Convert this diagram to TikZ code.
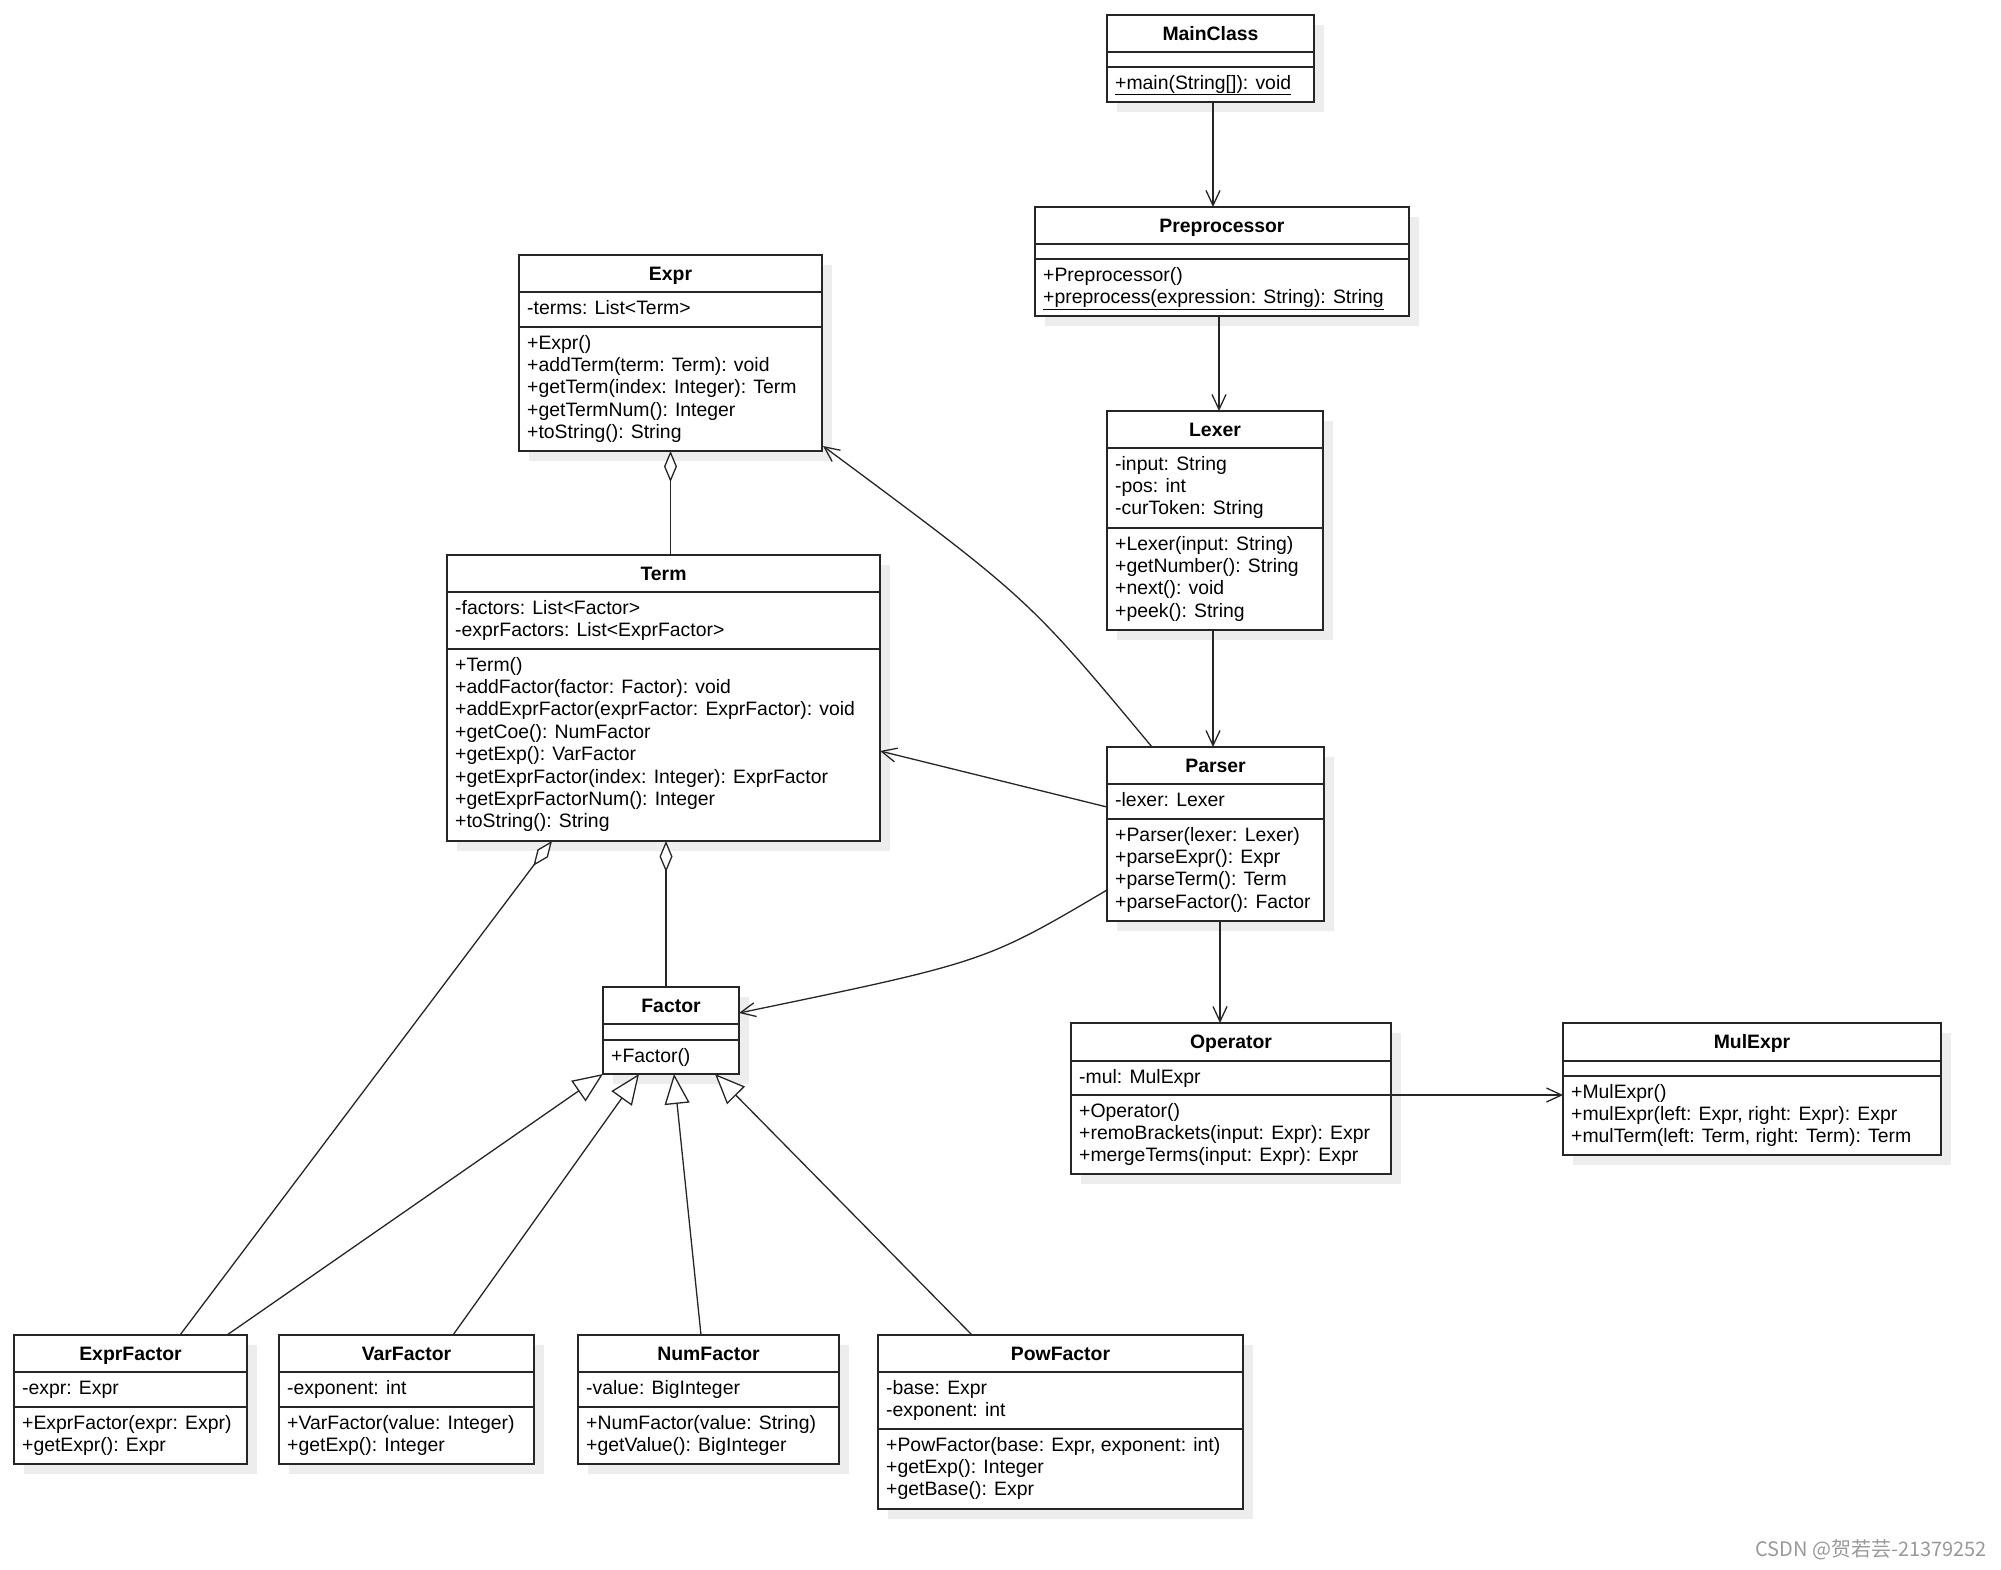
\documentclass[tikz,border=0pt]{standalone}
\usepackage{fontspec}
\setmainfont{Liberation Sans}
\newfontfamily\cjkfont{Noto Sans CJK SC}
\usetikzlibrary{arrows.meta,shadows,calc}

\newcommand\umlbox[8]{%
  \node[umlbox, minimum width=#3-#2, minimum height=#7-#4, anchor=north west] (#1) at (#2,#4) {};
  \draw[umldiv] (#2,#5) -- (#3,#5);
  \draw[umldiv] (#2,#6) -- (#3,#6);
  \node[clstitle] (#1-title) at ({(#2+#3)/2},#4+25.5) {#8};
}
\newcommand\umlmembers[4]{%
  \foreach \t [count=\i from 0] in {#4} {\node[membertxt] (#1-\i) at (#2+8,#3+22+\i*22.4) {\t};}%
}

\begin{document}
\begin{tikzpicture}[x=1pt,y=-1pt,
  umlbox/.style={draw=black!85, line width=2pt, fill=white, inner sep=0pt, outer sep=0pt,
    drop shadow={shadow xshift=10pt, shadow yshift=-10pt, fill=black!7, opacity=1}},
  umldiv/.style={draw=black!85, line width=1.4pt},
  clstitle/.style={anchor=base, inner sep=0pt, font=\fontsize{19.4}{22.4}\selectfont\bfseries},
  membertxt/.style={anchor=base west, inner sep=0pt, font=\fontsize{19.4}{22.4}\selectfont},
  conn/.style={draw=black!85, line width=1.3pt},
  assoc/.style={conn, -{Straight Barb[length=15pt,width=14pt]}},
  gen/.style={conn, -{Triangle[length=30pt,width=25pt,fill=white]}},
  aggr/.style={conn, {Diamond[length=31pt,width=13pt,fill=white]}-}
]
\fill[white] (0,0) rectangle (2001,1569);
\useasboundingbox (0,0) rectangle (2001,1569);

% ---------- classes ----------
\umlbox{mainclass}{1107}{1314}{15}{52}{67}{102}{MainClass}
\umlmembers{mainclass-m}{1107}{67}{{\underline{+main(String[]): void}}}

\umlbox{preprocessor}{1035}{1409}{207}{244}{259}{316}{Preprocessor}
\umlmembers{preprocessor-m}{1035}{259}{+Preprocessor(),{\underline{+preprocess(expression: String): String}}}

\umlbox{expr}{519}{822}{255}{292}{327}{451}{Expr}
\umlmembers{expr-a}{519}{292}{-terms: List<Term>}
\umlmembers{expr-m}{519}{327}{+Expr(),%
+addTerm(term: Term): void,%
+getTerm(index: Integer): Term,%
+getTermNum(): Integer,%
+toString(): String}

\umlbox{term}{447}{880}{555}{592}{649}{841}{Term}
\umlmembers{term-a}{447}{592}{-factors: List<Factor>,%
-exprFactors: List<ExprFactor>}
\umlmembers{term-m}{447}{649}{+Term(),%
+addFactor(factor: Factor): void,%
+addExprFactor(exprFactor: ExprFactor): void,%
+getCoe(): NumFactor,%
+getExp(): VarFactor,%
+getExprFactor(index: Integer): ExprFactor,%
+getExprFactorNum(): Integer,%
+toString(): String}

\umlbox{lexer}{1107}{1323}{411}{448}{528}{630}{Lexer}
\umlmembers{lexer-a}{1107}{448}{-input: String,%
-pos: int,%
-curToken: String}
\umlmembers{lexer-m}{1107}{528}{+Lexer(input: String),%
+getNumber(): String,%
+next(): void,%
+peek(): String}

\umlbox{parser}{1107}{1324}{747}{784}{819}{921}{Parser}
\umlmembers{parser-a}{1107}{784}{-lexer: Lexer}
\umlmembers{parser-m}{1107}{819}{+Parser(lexer: Lexer),%
+parseExpr(): Expr,%
+parseTerm(): Term,%
+parseFactor(): Factor}

\umlbox{factor}{603}{739}{987}{1024}{1040}{1074}{Factor}
\umlmembers{factor-m}{603}{1040}{+Factor()}

\umlbox{operator}{1071}{1391}{1023}{1061}{1095}{1174}{Operator}
\umlmembers{operator-a}{1071}{1061}{-mul: MulExpr}
\umlmembers{operator-m}{1071}{1095}{+Operator(),%
+remoBrackets(input: Expr): Expr,%
+mergeTerms(input: Expr): Expr}

\umlbox{mulexpr}{1563}{1941}{1023}{1061}{1076}{1155}{MulExpr}
\umlmembers{mulexpr-m}{1563}{1076}{+MulExpr(),%
{+mulExpr(left: Expr, right: Expr): Expr},%
{+mulTerm(left: Term, right: Term): Term}}

\umlbox{exprfactor}{14}{247}{1335}{1372}{1407}{1464}{ExprFactor}
\umlmembers{exprfactor-a}{14}{1372}{-expr: Expr}
\umlmembers{exprfactor-m}{14}{1407}{+ExprFactor(expr: Expr),%
+getExpr(): Expr}

\umlbox{varfactor}{279}{534}{1335}{1372}{1407}{1464}{VarFactor}
\umlmembers{varfactor-a}{279}{1372}{-exponent: int}
\umlmembers{varfactor-m}{279}{1407}{+VarFactor(value: Integer),%
+getExp(): Integer}

\umlbox{numfactor}{578}{839}{1335}{1372}{1407}{1464}{NumFactor}
\umlmembers{numfactor-a}{578}{1372}{-value: BigInteger}
\umlmembers{numfactor-m}{578}{1407}{+NumFactor(value: String),%
+getValue(): BigInteger}

\umlbox{powfactor}{878}{1243}{1335}{1372}{1429}{1509}{PowFactor}
\umlmembers{powfactor-a}{878}{1372}{-base: Expr,%
-exponent: int}
\umlmembers{powfactor-m}{878}{1429}{{+PowFactor(base: Expr, exponent: int)},%
+getExp(): Integer,%
+getBase(): Expr}

% ---------- associations ----------
\coordinate (a1) at ($(mainclass.south)+(2.5,0)$);
\draw[assoc] (a1) -- (a1 |- preprocessor.north);
\coordinate (a2) at ($(preprocessor.south)+(-3,0)$);
\draw[assoc] (a2) -- (a2 |- lexer.north);
\coordinate (a3) at ($(lexer.south)+(-2,0)$);
\draw[assoc] (a3) -- (a3 |- parser.north);
\coordinate (a4) at ($(parser.south)+(4.5,0)$);
\draw[assoc] (a4) -- (a4 |- operator.north);
\coordinate (a5) at ($(operator.east)+(0,-3.5)$);
\draw[assoc] (a5) -- (a5 -| mulexpr.west);

\draw[assoc] ($(parser.west)+(0,-27)$) -- ($(term.east)+(0,53)$);
\draw[assoc] ($(parser.west)+(0,56)$) .. controls (985,962) .. ($(factor.east)+(0,-17.5)$);
\draw[assoc] ($(parser.north west)+(45,0)$) .. controls (1028,598) .. ($(expr.south east)+(1,-5)$);

% ---------- aggregations ----------
\draw[aggr] (expr.south) -- (expr.south |- term.north);
\coordinate (g1) at ($(term.south)+(2.5,0)$);
\draw[aggr] (g1) -- (g1 |- factor.north);
\draw[aggr] ($(term.south west)+(105,0)$) -- ($(exprfactor.north west)+(166,0)$);

% ---------- generalizations ----------
\draw[gen] ($(exprfactor.north east)+(-20,0)$) -- (factor.south west);
\draw[gen] ($(varfactor.north west)+(174,0)$) -- ($(factor.south west)+(36,0)$);
\draw[gen] ($(numfactor.north)+(-7.5,0)$) -- ($(factor.south)+(3,0)$);
\draw[gen] ($(powfactor.north west)+(94,0)$) -- ($(factor.south east)+(-24,0)$);

% ---------- watermark ----------
\node[anchor=base east, inner sep=0pt, text=black!40, font=\cjkfont\fontsize{20}{24}\selectfont] (csdn) at (1987,1556) {CSDN @贺若芸-21379252};
\end{tikzpicture}
\end{document}
